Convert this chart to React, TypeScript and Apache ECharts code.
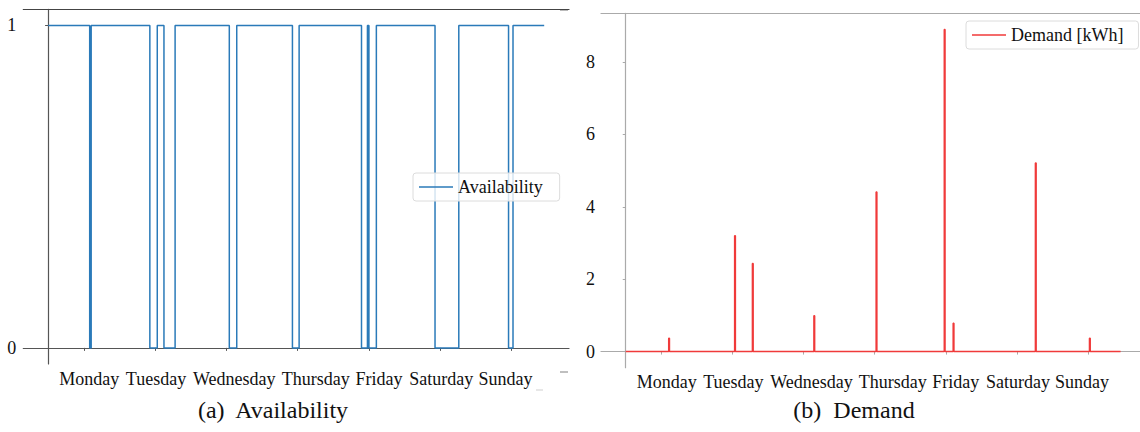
import React, { useEffect, useRef } from "react";
import * as echarts from "echarts";

const DAYS = ["Monday", "Tuesday", "Wednesday", "Thursday", "Friday", "Saturday", "Sunday"];
const DAY_TICK_HOURS = [12, 36, 60, 84, 108, 132, 156];
const HOUR_FIRST = 0;
const HOUR_LAST = 167;
const X_MIN = -8.35;
const X_MAX = 175.35;
// the right panel is cropped at the page edge, so its visible range ends earlier
const X_MAX_RIGHT_VISIBLE = 173.55;

// Availability: periods (hours) when the vehicle is away (value 0)
const AWAY_START = [14, 34.25, 39, 61, 82.25, 105.5, 108, 130.25, 155];
const AWAY_END = [14.5, 36.75, 42.75, 63.5, 84.5, 107.5, 110.5, 138.25, 156.5];
const AVAIL_TICKS = [0, 1];

// Demand spikes (hour, kWh)
const DEMAND_HOURS = [14.5, 36.75, 42.75, 63.5, 84.5, 107.5, 110.5, 138.25, 156.5];
const DEMAND_KWH = [0.37, 3.2, 2.43, 0.99, 4.41, 8.9, 0.78, 5.21, 0.37];
const DEMAND_STEP = 0.25;
const DEMAND_TICKS = [0, 2, 4, 6, 8];

const SERIF = "'Liberation Serif', 'Times New Roman', Times, serif";
// layout: horizontal nudge (px) of each day label relative to its tick, as in the reference
const LABEL_SHIFT_PX = [5.5, 1, 8, 18, 10, 1, -6];

function buildAvailability(): number[][] {
  const d: number[][] = [[HOUR_FIRST, 1]];
  AWAY_START.forEach((s, i) => {
    d.push([s, 0]);
    d.push([AWAY_END[i], 1]);
  });
  d.push([HOUR_LAST, 1]);
  return d;
}

function buildDemand(): number[][] {
  const d: number[][] = [[HOUR_FIRST, 0]];
  DEMAND_HOURS.forEach((h, i) => {
    d.push([h, DEMAND_KWH[i]]);
    d.push([h + DEMAND_STEP, 0]);
  });
  d.push([HOUR_LAST, 0]);
  return d;
}

export default function App() {
  const ref = useRef<HTMLDivElement>(null);

  useEffect(() => {
    if (!ref.current) return;
    const chart = echarts.init(ref.current, undefined, { renderer: "svg" });

    const leftAxisColor = "#555";
    const rightAxisColor = "#aaa";

    const xBottom = (
      gridIndex: number,
      gridWidth: number,
      xMax: number,
      color: string,
      margin: number
    ) => {
      const pxPerHour = gridWidth / (xMax - X_MIN);
      const labelValues = DAY_TICK_HOURS.map((h, i) => h + LABEL_SHIFT_PX[i] / pxPerHour);
      return {
        type: "value" as const,
        gridIndex,
        min: X_MIN,
        max: xMax,
        position: "bottom" as const,
        axisLine: { show: true, lineStyle: { color, width: 1.2 } },
        axisTick: {
          show: true,
          length: 3,
          customValues: DAY_TICK_HOURS,
          lineStyle: { color },
        },
        axisLabel: {
          show: true,
          customValues: labelValues,
          formatter: (v: number) => {
            let best = 0;
            labelValues.forEach((lv, i) => {
              if (Math.abs(lv - v) < Math.abs(labelValues[best] - v)) best = i;
            });
            return DAYS[best];
          },
          fontFamily: SERIF,
          fontSize: 18,
          color: "#111",
          margin,
          hideOverlap: false,
        },
        splitLine: { show: false },
      };
    };

    const xTop = (gridIndex: number, xMax: number, color: string) => ({
      type: "value" as const,
      gridIndex,
      min: X_MIN,
      max: xMax,
      position: "top" as const,
      axisLine: { show: true, lineStyle: { color, width: 1.2 } },
      axisTick: { show: false },
      axisLabel: { show: false },
      splitLine: { show: false },
    });

    const yLeft = (
      gridIndex: number,
      min: number,
      max: number,
      ticks: number[],
      color: string,
      margin: number
    ) => ({
      type: "value" as const,
      gridIndex,
      min,
      max,
      axisLine: { show: true, lineStyle: { color, width: 1.2 } },
      axisTick: { show: true, length: 3, customValues: ticks, lineStyle: { color } },
      axisLabel: {
        show: true,
        customValues: ticks,
        fontFamily: SERIF,
        fontSize: 18,
        color: "#111",
        margin,
      },
      splitLine: { show: false },
    });

    const legendCommon = {
      orient: "horizontal" as const,
      icon: "rect",
      itemWidth: 34,
      itemHeight: 1.5,
      itemGap: 6,
      borderColor: "#dcdcdc",
      borderWidth: 1,
      borderRadius: 3,
      backgroundColor: "rgba(255,255,255,0.8)",
      textStyle: { fontFamily: SERIF, fontSize: 18, color: "#111", lineHeight: 18 },
      selectedMode: false,
    };

    const g1 = { left: 23.3, top: 9.3, width: 545.7, height: 354.7 };
    const g2 = { left: 601, top: 13.3, width: 539, height: 354.4 };

    chart.setOption({
      animation: false,
      backgroundColor: "#ffffff",
      textStyle: { fontFamily: SERIF },
      grid: [g1, g2],
      xAxis: [
        xBottom(0, g1.width, X_MAX, leftAxisColor, 6),
        xTop(0, X_MAX, "#444"),
        xBottom(1, g2.width, X_MAX_RIGHT_VISIBLE, rightAxisColor, 5),
        xTop(1, X_MAX_RIGHT_VISIBLE, rightAxisColor),
      ],
      yAxis: [
        yLeft(0, -0.05, 1.05, AVAIL_TICKS, leftAxisColor, 7),
        yLeft(1, -0.445, 9.345, DEMAND_TICKS, rightAxisColor, 6),
      ],
      legend: [
        {
          ...legendCommon,
          data: ["Availability"],
          left: 413,
          top: 173,
          padding: [5, 17, 5, 6],
        },
        {
          ...legendCommon,
          data: ["Demand [kWh]"],
          left: 966,
          top: 21,
          padding: [5, 15, 5, 6],
        },
      ],
      series: [
        {
          name: "Availability",
          type: "line",
          xAxisIndex: 0,
          yAxisIndex: 0,
          step: "end",
          symbol: "none",
          data: buildAvailability(),
          lineStyle: { color: "#2a7ab9", width: 1.5 },
          itemStyle: { color: "#2a7ab9" },
          silent: true,
        },
        {
          name: "Demand [kWh]",
          type: "line",
          xAxisIndex: 2,
          yAxisIndex: 1,
          step: "end",
          symbol: "none",
          data: buildDemand(),
          lineStyle: { color: "#f03a3a", width: 1.5 },
          itemStyle: { color: "#f03a3a" },
          silent: true,
        },
      ],
      graphic: [
        {
          type: "text",
          x: 273,
          y: 410,
          style: {
            text: "(a)\u00a0 Availability",
            fontFamily: SERIF,
            fontSize: 24,
            fill: "#111",
            textAlign: "center",
            textVerticalAlign: "middle",
          },
        },
        {
          type: "text",
          x: 854,
          y: 410,
          style: {
            text: "(b)\u00a0 Demand",
            fontFamily: SERIF,
            fontSize: 24,
            fill: "#111",
            textAlign: "center",
            textVerticalAlign: "middle",
          },
        },
        {
          type: "line",
          shape: { x1: 536, y1: 390, x2: 543, y2: 390 },
          style: { stroke: "#cfcfcf", lineWidth: 1 },
        },
        {
          type: "line",
          shape: { x1: 560, y1: 10, x2: 568, y2: 10 },
          style: { stroke: "#777", lineWidth: 1 },
        },
        {
          type: "line",
          shape: { x1: 560, y1: 372, x2: 568, y2: 372 },
          style: { stroke: "#aaa", lineWidth: 1.5 },
        },
      ],
    });

    return () => chart.dispose();
  }, []);

  return (
    <div
      ref={ref}
      style={{ position: "fixed", left: 0, top: 0, width: 1140, height: 432, background: "#fff" }}
    />
  );
}
